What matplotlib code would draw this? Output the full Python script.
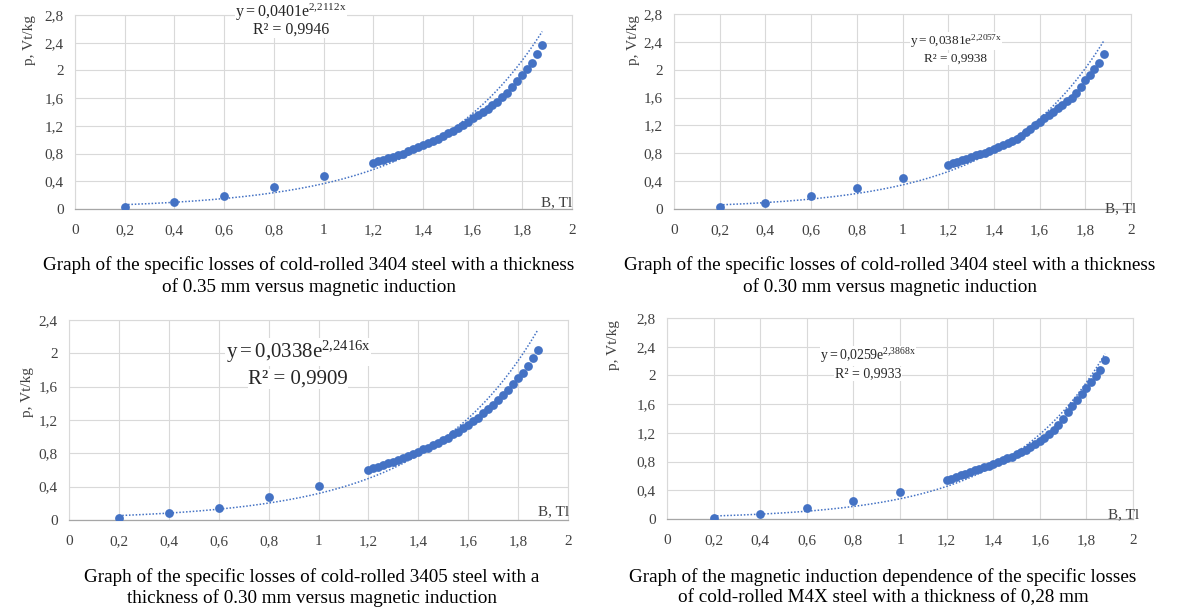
import numpy as np
import matplotlib
matplotlib.use('Agg')
import matplotlib.pyplot as plt

plt.rcParams['font.family'] = ['Liberation Serif', 'DejaVu Serif']
plt.rcParams['mathtext.fontset'] = 'custom'
plt.rcParams['mathtext.rm'] = 'Liberation Serif'
plt.rcParams['mathtext.it'] = 'Liberation Serif'

W, H = 1179, 610

# induction values, T
b_low = [0.2, 0.4, 0.6, 0.8, 1.0]
b_high = [1.20, 1.22, 1.24, 1.26, 1.28, 1.30, 1.32, 1.34, 1.36, 1.38,
          1.40, 1.42, 1.44, 1.46, 1.48, 1.50, 1.52, 1.54, 1.56, 1.58,
          1.60, 1.62, 1.64, 1.66, 1.68, 1.70, 1.72, 1.74, 1.76, 1.78,
          1.80, 1.82, 1.84, 1.86, 1.88]

# specific losses, W/kg
p_3404_035 = [0.03, 0.10, 0.19, 0.32, 0.47,
              0.67, 0.69, 0.71, 0.73, 0.75, 0.78, 0.80, 0.83, 0.86, 0.89,
              0.92, 0.95, 0.98, 1.01, 1.05, 1.09, 1.13, 1.17, 1.21, 1.26,
              1.31, 1.35, 1.40, 1.45, 1.50, 1.55, 1.61, 1.68, 1.76, 1.85,
              1.93, 2.02, 2.11, 2.23, 2.37]
p_3404_030 = [0.03, 0.09, 0.18, 0.30, 0.45,
              0.63, 0.66, 0.68, 0.70, 0.72, 0.75, 0.77, 0.79, 0.81, 0.84,
              0.86, 0.89, 0.92, 0.95, 0.98, 1.01, 1.05, 1.10, 1.15, 1.20,
              1.25, 1.30, 1.35, 1.40, 1.45, 1.50, 1.55, 1.60, 1.67, 1.75,
              1.85, 1.93, 2.01, 2.10, 2.22]
p_3405_030 = [0.02, 0.08, 0.14, 0.28, 0.41,
              0.60, 0.62, 0.64, 0.66, 0.68, 0.70, 0.72, 0.74, 0.77, 0.79,
              0.82, 0.85, 0.87, 0.90, 0.93, 0.96, 0.99, 1.03, 1.06, 1.10,
              1.14, 1.19, 1.23, 1.28, 1.33, 1.38, 1.44, 1.50, 1.56, 1.63,
              1.70, 1.77, 1.85, 1.94, 2.04]
p_m4x_028 = [0.02, 0.07, 0.15, 0.25, 0.38,
             0.54, 0.56, 0.58, 0.61, 0.63, 0.66, 0.68, 0.70, 0.72, 0.74,
             0.77, 0.79, 0.82, 0.85, 0.87, 0.90, 0.93, 0.96, 1.00, 1.04,
             1.08, 1.13, 1.18, 1.24, 1.31, 1.40, 1.49, 1.58, 1.66, 1.74,
             1.82, 1.91, 1.99, 2.08, 2.21]

# exponential trendline coefficients (y = a*exp(b*x)) and R^2
fit_a = [0.0401, 0.0381, 0.0338, 0.0259]
fit_b = [2.2112, 2.2057, 2.2416, 2.3868]
fit_r2 = [0.9946, 0.9938, 0.9909, 0.9933]

y_max = [2.8, 2.8, 2.4, 2.8]

captions = [
    ["Graph of the specific losses of cold-rolled 3404 steel with a thickness",
     "of 0.35 mm versus magnetic induction"],
    ["Graph of the specific losses of cold-rolled 3404 steel with a thickness",
     "of 0.30 mm versus magnetic induction"],
    ["Graph of the specific losses of cold-rolled 3405 steel with a",
     "thickness of 0.30 mm versus magnetic induction"],
    ["Graph of the magnetic induction dependence of the specific losses",
     "of cold-rolled M4X steel with a thickness of 0,28 mm"],
]

# layout in pixels: x of B=0, x of B=2, y of p=0, y of p=max
boxes = [(75, 572, 209, 15), (674, 1131, 209, 14),
         (69, 568, 520, 320), (667, 1133, 519, 318)]
ylab_pos = [(30, 40), (633, 40), (28, 392), (614, 345)]
blab_pos = [(557, 203), (1121, 209), (554, 512), (1124, 515)]
# x centre, y of first line, y of second line, size of first, size of second
eq_pos = [(291, 12, 30, 11.5, 11.5), (956, 41, 59, 9.5, 9.5),
          (298, 352, 379, 15, 15), (868, 356, 374, 10, 10)]
cap_pos = [(309, 265, 287), (890, 265, 287), (312, 577, 598), (883, 577, 598)]

blue = '#4472C4'
grid_c = '#D9D9D9'


def fx(px):
    return px / W


def fy(py):
    return 1 - py / H


def fmt(v):
    s = ('%.1f' % v).rstrip('0').rstrip('.')
    return s.replace('.', ',')


fig = plt.figure(figsize=(W / 100, H / 100), dpi=100)
series = [p_3404_035, p_3404_030, p_3405_030, p_m4x_028]
b_all = b_low + b_high

for i in range(4):
    x0, x2, yb, yt = boxes[i]
    ax = fig.add_axes([fx(x0), fy(yb), (x2 - x0) / W, (yb - yt) / H])
    ax.set_xlim(0, 2)
    ax.set_ylim(0, y_max[i])
    xt = np.arange(0, 2.01, 0.2)
    yt_ = np.arange(0, y_max[i] + 0.01, 0.4)
    ax.set_xticks(xt)
    ax.set_yticks(yt_)
    ax.set_xticklabels([fmt(v) for v in xt])
    ax.set_yticklabels([fmt(v) for v in yt_])
    ax.tick_params(length=0, labelsize=11, colors='#404040')
    ax.tick_params(axis='x', pad=11)
    ax.tick_params(axis='y', pad=8)
    ax.grid(True, color=grid_c, lw=0.8)
    ax.set_axisbelow(True)
    for s in ['top', 'right', 'left']:
        ax.spines[s].set_color(grid_c)
        ax.spines[s].set_linewidth(0.8)
    ax.spines['bottom'].set_color('#A6A6A6')
    ax.spines['bottom'].set_linewidth(0.9)

    ax.scatter(b_all, series[i], s=40, color=blue, zorder=3, linewidths=0)
    tx = np.linspace(b_all[0], b_all[-1], 200)
    ax.plot(tx, fit_a[i] * np.exp(fit_b[i] * tx), ls=(0, (1, 1.2)), color=blue,
            lw=1.1, zorder=4)

    ex, ey1, ey2, efs1, efs2 = eq_pos[i]
    a_s = ('%.4f' % fit_a[i]).replace('.', '{,}')
    b_s = ('%.4f' % fit_b[i]).replace('.', '{,}')
    fig.text(fx(ex), fy(ey1), r'$\mathrm{y = %se^{%sx}}$' % (a_s, b_s),
             ha='center', va='center', fontsize=efs1, color='#262626',
             bbox=dict(facecolor='white', edgecolor='none', pad=0.3), zorder=5)
    r_s = ('%.4f' % fit_r2[i]).replace('.', ',')
    fig.text(fx(ex), fy(ey2), 'R² = ' + r_s, ha='center', va='center',
             fontsize=efs2, color='#262626',
             bbox=dict(facecolor='white', edgecolor='none', pad=0.3), zorder=5)

    lx, ly = ylab_pos[i]
    fig.text(fx(lx), fy(ly), 'p, Vt/kg', rotation=90, ha='center', va='center',
             fontsize=11, color='#404040')
    bx, by = blab_pos[i]
    fig.text(fx(bx), fy(by), 'B, Tl', ha='center', va='center',
             fontsize=11, color='#404040')

    cx, cy1, cy2 = cap_pos[i]
    fig.text(fx(cx), fy(cy1), captions[i][0], ha='center', va='center',
             fontsize=13.8, color='black')
    fig.text(fx(cx), fy(cy2), captions[i][1], ha='center', va='center',
             fontsize=13.8, color='black')

fig.savefig('out.png', dpi=100)
